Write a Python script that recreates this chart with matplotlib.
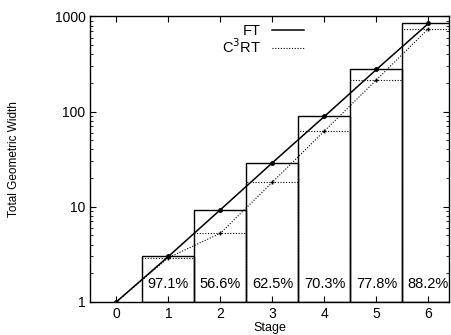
import numpy as np
import matplotlib
matplotlib.use("Agg")
import matplotlib.pyplot as plt

# ======================
# DATA
# ======================
stages = [0, 1, 2, 3, 4, 5, 6]
ft_width = [1, 3.0, 9.3, 29, 89, 277, 844]
ratio_pct = [97.1, 56.6, 62.5, 70.3, 77.8, 88.2]   # C3RT / FT for stages 1..6
ratio_labels = ["97.1%", "56.6%", "62.5%", "70.3%", "77.8%", "88.2%"]
ytick_vals = [1, 10, 100, 1000]
ytick_labels = ["1", "10", "100", "1000"]

ft = np.array(ft_width, dtype=float)
c3rt = np.concatenate([[ft[0]], ft[1:] * np.array(ratio_pct) / 100.0])

plt.rcParams["font.family"] = ["Liberation Sans", "DejaVu Sans"]

fig = plt.figure(figsize=(4.52, 3.35), dpi=100)
ax = fig.add_axes([0.2, 0.099, 0.794, 0.852])

bar_x = stages[1:]
# C3RT levels (dotted) and FT bars (solid)
ax.bar(bar_x, c3rt[1:] - 1, width=1.0, bottom=1, fill=False, edgecolor="black",
       linestyle=(0, (1, 1.5)), linewidth=0.8)
ax.bar(bar_x, ft[1:] - 1, width=1.0, bottom=1, fill=False, edgecolor="black",
       linewidth=1.0)

ax.plot(stages, ft, "-", color="black", linewidth=1.1, label="FT")
ax.plot(stages, c3rt, linestyle=(0, (1, 1.5)), color="black", linewidth=0.8,
        label="C$^3$RT")
ax.plot(stages, ft, "o", color="black", markersize=2.5)
ax.plot(stages, c3rt, "+", color="black", markersize=3.5, markeredgewidth=1.0)

for s, lab in zip(bar_x, ratio_labels):
    ax.text(s, 1.55, lab, ha="center", va="center", fontsize=10.5)

ax.set_yscale("log")
ax.set_ylim(1, 1000)
ax.set_xlim(-0.5, 6.4)
ax.set_xticks(stages)
ax.set_yticks(ytick_vals)
ax.set_yticklabels(ytick_labels)
ax.tick_params(which="both", direction="in", top=True, right=True, labelsize=10)
ax.tick_params(which="major", length=4)
ax.tick_params(which="minor", length=2)
ax.set_xlabel("Stage", fontsize=9, labelpad=1)
ax.set_ylabel("Total Geometric Width", fontsize=8.5, labelpad=25)
for sp in ax.spines.values():
    sp.set_linewidth(1.0)

ax.legend(loc="upper right", bbox_to_anchor=(0.625, 1.01), frameon=False,
          markerfirst=False, handlelength=2.2, fontsize=10.5,
          labelspacing=0.0, borderpad=0.2, handletextpad=0.8)

fig.savefig("out.png", dpi=100)
